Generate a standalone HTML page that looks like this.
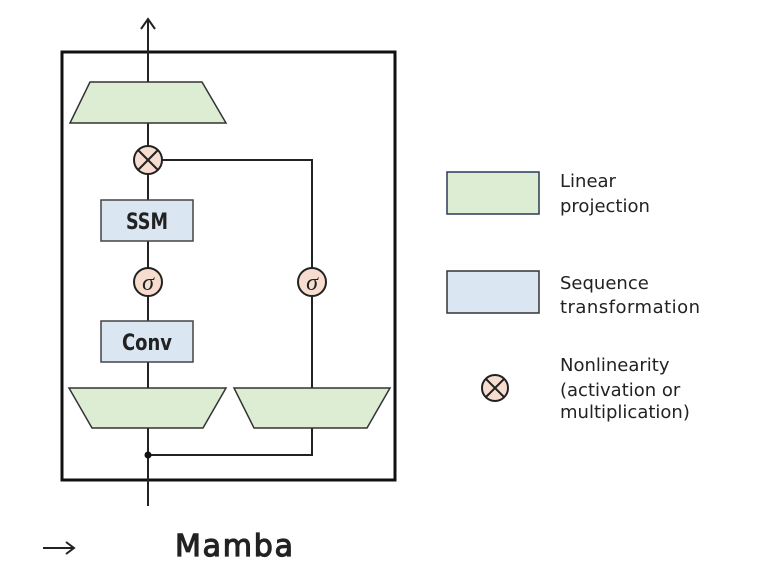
<!DOCTYPE html>
<html><head><meta charset="utf-8"><style>
html,body{margin:0;padding:0;background:#fff;}
svg{display:block;}
</style></head><body>
<svg width="761" height="576" viewBox="0 0 761 576" xmlns="http://www.w3.org/2000/svg" font-family="Liberation Sans, DejaVu Sans, sans-serif">
<rect x="0" y="0" width="761" height="576" fill="#fff"/>
<rect x="62" y="52" width="333" height="428" fill="none" stroke="#111" stroke-width="3"/>
<line x1="148" y1="20" x2="148" y2="506" stroke="#222" stroke-width="2"/>
<polyline points="141,29 148,19 155,29" fill="none" stroke="#222" stroke-width="2"/>
<polyline points="148,160 312,160 312,455 148,455" fill="none" stroke="#222" stroke-width="2"/>
<circle cx="148" cy="455" r="3.5" fill="#111"/>
<polygon points="90,82 202,82 226,123 70,123" fill="#dcedd3" stroke="#333" stroke-width="1.5"/>
<circle cx="148" cy="160" r="14" fill="#f6ddd0" stroke="#222" stroke-width="2"/>
<line x1="138" y1="150" x2="158" y2="170" stroke="#222" stroke-width="2"/>
<line x1="158" y1="150" x2="138" y2="170" stroke="#222" stroke-width="2"/>
<rect x="101" y="200" width="92" height="41" fill="#dbe6f3" stroke="#444" stroke-width="1.5"/>
<text x="147" y="229" text-anchor="middle" font-size="22" font-weight="bold" fill="#222" font-family="DejaVu Sans Condensed, DejaVu Sans, sans-serif" textLength="42" lengthAdjust="spacingAndGlyphs">SSM</text>
<circle cx="148" cy="282" r="14" fill="#f6ddd0" stroke="#222" stroke-width="2"/>
<text x="148" y="290" text-anchor="middle" font-size="24" font-style="italic" fill="#222" font-family="Liberation Serif, serif">σ</text>
<circle cx="312" cy="282" r="14" fill="#f6ddd0" stroke="#222" stroke-width="2"/>
<text x="312" y="290" text-anchor="middle" font-size="24" font-style="italic" fill="#222" font-family="Liberation Serif, serif">σ</text>
<rect x="101" y="321" width="92" height="41" fill="#dbe6f3" stroke="#444" stroke-width="1.5"/>
<text x="147" y="350" text-anchor="middle" font-size="22" font-weight="bold" fill="#222" font-family="DejaVu Sans Condensed, DejaVu Sans, sans-serif" textLength="50" lengthAdjust="spacingAndGlyphs">Conv</text>
<polygon points="69,388 226,388 203,428 92,428" fill="#dcedd3" stroke="#333" stroke-width="1.5"/>
<polygon points="234,388 390,388 367,428 254,428" fill="#dcedd3" stroke="#333" stroke-width="1.5"/>
<line x1="43" y1="548" x2="73" y2="548" stroke="#222" stroke-width="2"/>
<polyline points="66,542 74,548 66,554" fill="none" stroke="#222" stroke-width="2"/>
<text x="175" y="556" font-size="30" fill="#222" font-family="DejaVu Sans, sans-serif" textLength="118" stroke="#222" stroke-width="1.2">Mamba</text>
<rect x="447" y="172" width="92" height="42" fill="#dcedd3" stroke="#2a3a5a" stroke-width="1.5"/>
<rect x="447" y="271" width="92" height="42" fill="#dbe6f3" stroke="#333" stroke-width="1.5"/>
<circle cx="495" cy="388" r="13" fill="#f6ddd0" stroke="#222" stroke-width="2"/>
<line x1="486" y1="379" x2="504" y2="397" stroke="#222" stroke-width="2"/>
<line x1="504" y1="379" x2="486" y2="397" stroke="#222" stroke-width="2"/>
<g font-size="18" fill="#222" font-family="DejaVu Sans, sans-serif">
<text x="560" y="187">Linear</text>
<text x="560" y="212">projection</text>
<text x="560" y="289">Sequence</text>
<text x="560" y="313" textLength="140">transformation</text>
<text x="560" y="371">Nonlinearity</text>
<text x="560" y="396">(activation or</text>
<text x="560" y="418">multiplication)</text>
</g>
</svg>
</body></html>
